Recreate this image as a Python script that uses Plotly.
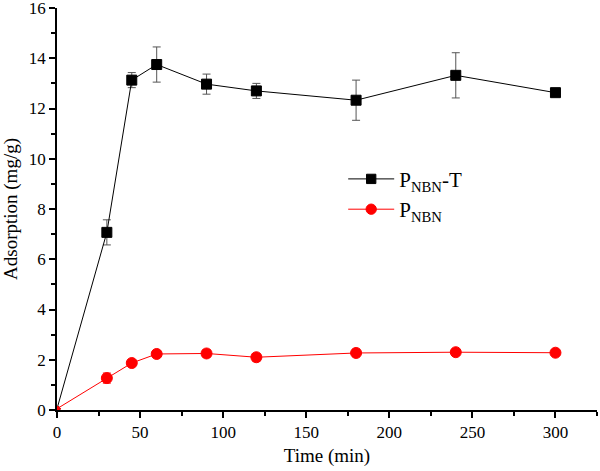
import plotly.graph_objects as go

time_min = [0, 30, 45, 60, 90, 120, 180, 240, 300]

pnbn_t = [0.05, 7.07, 13.13, 13.75, 12.97, 12.70, 12.33, 13.32, 12.63]
pnbn_t_err = [0, 0.5, 0.3, 0.7, 0.4, 0.3, 0.8, 0.9, 0.15]

pnbn = [0.05, 1.27, 1.87, 2.23, 2.25, 2.10, 2.27, 2.30, 2.28]
pnbn_err = [0, 0.2, 0.1, 0.12, 0.15, 0.15, 0.15, 0.12, 0.08]

sizes = [4] + [10] * (len(time_min) - 1)

fig = go.Figure()

# error bars first so the markers sit on top of them
for y, err, col in [(pnbn_t, pnbn_t_err, '#555555'), (pnbn, pnbn_err, 'red')]:
    fig.add_trace(go.Scatter(
        x=time_min, y=y, mode='markers', marker=dict(opacity=0),
        error_y=dict(type='data', array=err, color=col, thickness=1, width=4),
        showlegend=False, hoverinfo='skip',
    ))

fig.add_trace(go.Scatter(
    x=time_min, y=pnbn_t, name='P<sub>NBN</sub>-T',
    mode='lines+markers',
    line=dict(color='black', width=1),
    marker=dict(symbol='square', size=sizes, color='black',
                opacity=1, line=dict(color='black', width=1)),
))

fig.add_trace(go.Scatter(
    x=time_min, y=pnbn, name='P<sub>NBN</sub>',
    mode='lines+markers',
    line=dict(color='red', width=1),
    marker=dict(symbol='circle', size=[s + 1 for s in sizes], color='red',
                opacity=1, line=dict(color='red', width=1)),
))

fig.update_layout(
    width=600, height=471,
    margin=dict(l=57, r=3, t=8, b=61),
    plot_bgcolor='white', paper_bgcolor='white',
    font=dict(family='Liberation Serif', size=17, color='black'),
    showlegend=True,
    legend=dict(x=0.53, y=0.625, xanchor='left', yanchor='top',
                font=dict(size=21), bgcolor='rgba(0,0,0,0)',
                itemwidth=46, tracegroupgap=4),
)

fig.update_xaxes(
    range=[0, 325], tickvals=[0, 50, 100, 150, 200, 250, 300],
    ticks='outside', ticklen=6, tickwidth=1.5, tickcolor='black',
    minor=dict(dtick=25, tick0=0, ticks='outside', ticklen=4, tickwidth=1.5, tickcolor='black'),
    showline=True, linecolor='black', linewidth=1.5,
    showgrid=False, zeroline=False, automargin=False,
    title=dict(text='Time (min)', font=dict(size=19), standoff=8),
)

fig.update_yaxes(
    range=[0, 16], tickvals=[0, 2, 4, 6, 8, 10, 12, 14, 16],
    ticks='outside', ticklen=6, tickwidth=1.5, tickcolor='black',
    minor=dict(dtick=1, ticks='outside', ticklen=4, tickwidth=1.5, tickcolor='black'),
    showline=True, linecolor='black', linewidth=1.5,
    showgrid=False, zeroline=False, automargin=False,
    ticklabeloverflow='allow',
    title=dict(text='Adsorption (mg/g)', font=dict(size=19), standoff=6),
)

# the page body has a default 8px margin; drop it so the figure fills the window
fig.write_html("out.html", config={'displayModeBar': False},
               post_script="document.body.style.margin='0';")
